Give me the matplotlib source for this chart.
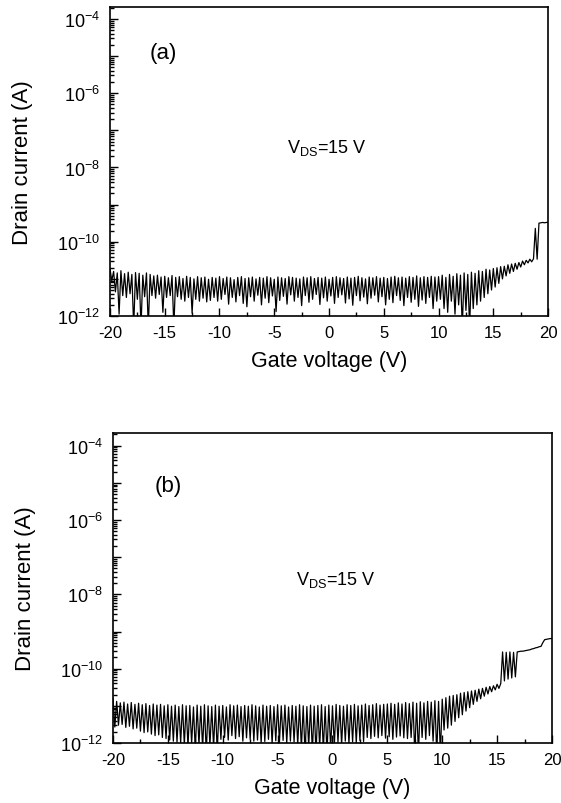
import numpy as np
import matplotlib
matplotlib.use("Agg")
import matplotlib.pyplot as plt
from matplotlib.ticker import LogLocator, FuncFormatter, NullFormatter, MultipleLocator

plt.rcParams['font.family'] = ['Liberation Sans', 'DejaVu Sans']
plt.rcParams['mathtext.fontset'] = 'custom'
plt.rcParams['mathtext.rm'] = 'Liberation Sans'
plt.rcParams['mathtext.default'] = 'regular'
plt.rcParams['axes.unicode_minus'] = False

# --- Data: log10 of drain current (A) ---
# Sweep goes -20 V .. 20 V in 1/6 V steps; the noisy trace alternates
# between two sets of readings, kept as "even" and "odd" sweep points.
gate_v = np.linspace(-20, 20, 241)

a_even = [
    -10.72, -10.80, -10.84, -10.78, -10.86, -10.82, -10.88, -10.83, -10.85, -10.90, -10.84, -10.88, -10.92,
    -10.90, -10.95, -10.93, -10.97, -10.91, -10.96, -10.94, -10.99, -10.93, -10.96, -11.00, -10.94, -10.97,
    -10.95, -11.01, -10.96, -10.98, -10.94,
    -10.99, -10.95, -10.97, -11.02, -10.96, -10.94, -10.99, -10.97, -10.95, -11.00,
    -10.96, -10.98, -10.94, -10.97, -11.01, -10.95, -10.97, -10.99, -10.94, -10.96,
    -10.98, -11.00, -10.95, -10.97, -10.94, -10.99, -10.96, -10.98, -10.95, -11.01,
    -10.96, -10.94, -10.97, -10.99, -10.95, -10.98, -10.96, -10.93, -10.97, -11.00,
    -10.95, -10.97, -10.94, -10.98, -10.96, -10.99, -10.95, -10.93, -10.97, -10.95,
    -10.98, -10.94, -10.96, -10.92, -10.97, -10.94, -10.96, -10.93, -10.95, -10.94,
    -10.90, -10.96, -10.88, -10.93, -10.86, -10.90, -10.84, -10.88, -10.82, -10.85,
    -10.78, -10.80, -10.74, -10.76, -10.72, -10.70, -10.67, -10.66, -10.62, -10.60,
    -10.58, -10.56, -10.52, -10.50, -10.47,
    -10.46, -10.47, -9.49, -9.49, -9.48,
]
a_odd = [
    -11.05, -11.35, -11.95, -11.45, -11.50, -11.40, -12.30, -11.55, -12.30, -11.48,
    -12.30, -11.45, -11.52, -11.42, -11.90, -11.50, -11.45, -12.30, -11.48, -11.55,
    -11.60, -11.50, -11.92, -11.55, -11.60, -11.52, -11.62, -11.58, -11.50, -11.60,
    -11.55, -11.42, -11.68, -11.50, -11.62, -11.45, -11.66, -11.75, -11.48, -11.60,
    -11.44, -11.70, -11.52, -11.64, -11.46, -11.88, -11.58, -11.47, -11.68, -11.43,
    -11.60, -11.50, -11.72, -11.45, -11.63, -11.55, -11.42, -11.69, -11.51, -11.60,
    -11.46, -11.66, -11.50, -11.43, -11.65, -11.54, -11.71, -11.45, -11.59, -11.49,
    -11.67, -11.52, -11.44, -11.62, -11.48, -11.70, -11.55, -11.64, -11.45, -11.58,
    -11.72, -11.50, -11.63, -11.55, -11.74, -11.57, -11.66, -11.50, -11.80, -11.60,
    -11.55, -11.80, -11.90, -11.60, -11.95, -11.70, -12.30, -11.85, -12.30, -11.80,
    -11.70, -11.60, -11.50, -11.40, -11.30, -11.22, -11.12, -11.00, -10.92, -10.85,
    -10.80, -10.74, -10.68, -10.62, -10.57, -10.54,
    -9.64, -9.50, -9.48, -9.48,
]

b_even = [
    -10.80, -10.88, -10.92, -10.90, -10.95, -10.91, -10.96, -10.93, -10.97, -10.94,
    -10.99, -10.95, -10.98, -10.96, -11.00,
    -10.97, -11.01, -10.98, -11.02, -10.97, -11.00, -10.99, -11.03, -10.98, -11.01,
    -10.97, -11.00, -11.02, -10.98, -11.01, -10.99, -11.03, -10.97, -11.00, -10.98,
    -11.02, -10.99, -11.01, -10.97, -11.00, -11.03, -10.98, -11.01, -10.99, -11.02,
    -10.97, -11.00, -10.98, -11.03, -10.99, -11.01, -10.97, -11.00, -11.02, -10.98,
    -11.01, -10.99, -10.97, -11.02, -10.98, -11.00, -10.96, -10.99, -11.01, -10.97,
    -10.99, -10.96, -11.00, -10.98, -10.95, -10.99, -10.97, -10.94, -10.98, -10.96,
    -10.95,
    -10.93, -10.96, -10.92, -10.95, -10.91, -10.94, -10.90, -10.93, -10.89, -10.92,
    -10.88, -10.90, -10.86, -10.88, -10.82,
    -10.78, -10.74, -10.72, -10.70, -10.66, -10.64, -10.62, -10.60, -10.58, -10.55,
    -10.53, -10.50, -10.48, -10.46, -10.42, -10.40,
    -10.33, -10.28, -10.25, -10.22,
    -9.54, -9.53, -9.51, -9.49, -9.46, -9.43, -9.40, -9.22, -9.20, -9.19,
]
b_odd = [
    -11.57, -11.52, -11.50, -11.58, -11.55, -11.62, -11.60, -11.68, -11.72, -11.70,
    -11.76, -11.80, -11.78, -11.85, -11.88, -11.92, -11.95, -11.98, -12.00, -12.05,
    -12.10, -12.02, -12.20, -12.05, -12.15, -12.30, -12.08, -12.12, -12.25,
    -11.90, -11.85, -11.92, -11.80, -11.88, -11.83, -11.95, -11.86, -11.90,
    -11.95, -11.92, -12.00, -11.96, -11.90, -12.02, -11.94, -11.98, -11.93, -12.00,
    -11.95, -11.97, -12.05,
    -12.15, -12.30, -12.10, -12.25, -12.30, -12.12, -12.20, -12.30, -12.15, -12.08,
    -11.98, -12.05, -11.95, -12.02, -11.97, -12.00, -11.93, -11.96,
    -11.85, -11.88, -11.82, -11.86, -11.80, -11.87, -11.83, -11.90, -11.84, -11.81,
    -11.86, -11.88,
    -11.85, -12.30, -12.30, -11.85, -11.90, -11.80, -11.95, -12.30, -12.30,
    -11.65, -11.60, -11.52, -11.42, -11.32, -11.24, -11.14, -11.05, -10.96, -10.88,
    -10.81, -10.74, -10.68, -10.62, -10.57, -10.53,
    -9.55, -9.56, -9.55, -9.56, -9.55,
    -9.53, -9.52, -9.50, -9.47, -9.44, -9.41, -9.30, -9.21, -9.19,
]


def sweep(even, odd):
    log_i = np.empty(len(gate_v))
    log_i[0::2] = even
    log_i[1::2] = odd
    return 10.0 ** log_i


def decade_label(val, pos):
    e = int(round(np.log10(val)))
    return r'$10^{%d}$' % e if e % 2 == 0 else ''


def style_axis(ax, top_exp):
    ax.set_yscale('log')
    ax.set_xlim(-20, 20)
    ax.set_ylim(1e-12, 10 ** top_exp)
    ax.set_xticks(np.arange(-20, 21, 5))
    ax.xaxis.set_minor_locator(MultipleLocator(2.5))
    ax.yaxis.set_major_locator(LogLocator(base=10, numticks=20))
    ax.yaxis.set_minor_locator(LogLocator(base=10, subs=np.arange(2, 10), numticks=20))
    ax.yaxis.set_major_formatter(FuncFormatter(decade_label))
    ax.yaxis.set_minor_formatter(NullFormatter())
    ax.tick_params(which='both', direction='in', top=False, right=False, width=1.0)
    ax.tick_params(which='major', length=6)
    ax.tick_params(which='minor', length=3)
    ax.tick_params(axis='x', labelsize=12, pad=6.5)
    ax.tick_params(axis='y', labelsize=13, pad=7)
    for s in ax.spines.values():
        s.set_linewidth(1.2)
    ax.set_xlabel('Gate voltage (V)', fontsize=15.5)
    ax.set_ylabel('Drain current (A)', fontsize=16)
    ax.yaxis.set_label_coords(-0.175, 0.5)
    ax.xaxis.set_label_coords(0.5, -0.11)


fig = plt.figure(figsize=(5.61, 8.04), dpi=100)
ax_a = fig.add_axes([0.196, 0.6057, 0.781, 0.3843])
ax_b = fig.add_axes([0.2014, 0.0746, 0.7825, 0.3856])

ax_a.plot(gate_v, sweep(a_even, a_odd), color='black', lw=0.9)
style_axis(ax_a, -3.68)
ax_a.text(0.121, 0.854, '(a)', transform=ax_a.transAxes, fontsize=16, ha='center', va='center')
ax_a.text(0.495, 0.547, r'$V_{DS}$=15 V', transform=ax_a.transAxes, fontsize=13, ha='center', va='center')

ax_b.plot(gate_v, sweep(b_even, b_odd), color='black', lw=0.9)
style_axis(ax_b, -3.66)
ax_b.text(0.125, 0.832, '(b)', transform=ax_b.transAxes, fontsize=16, ha='center', va='center')
ax_b.text(0.508, 0.529, r'$V_{DS}$=15 V', transform=ax_b.transAxes, fontsize=13, ha='center', va='center')

plt.savefig('out.png', dpi=100)
